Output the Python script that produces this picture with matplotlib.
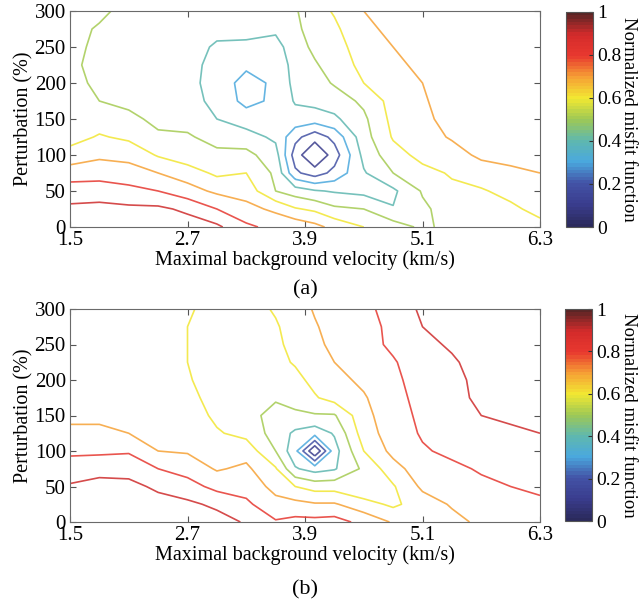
import matplotlib.pyplot as plt
import numpy as np
from matplotlib.colors import LinearSegmentedColormap, Normalize
from matplotlib.cm import ScalarMappable

plt.rcParams['font.family'] = ['Liberation Serif', 'DejaVu Serif']

# grid of the misfit maps
velocity = [1.5, 1.8, 2.1, 2.4, 2.7, 3.0, 3.3, 3.6, 3.8, 4.0, 4.2, 4.5, 4.8, 5.1, 5.4, 5.7, 6.0, 6.3]
perturbation = [0, 25, 50, 75, 100, 125, 150, 175, 200, 225, 250, 275, 300]
levels = [0.1, 0.2, 0.3, 0.4, 0.5, 0.6, 0.7, 0.8, 0.9]

# one list per velocity column, from perturbation 0 up to 300
misfit_a = [
    [0.95, 0.92, 0.85, 0.75, 0.64, 0.56, 0.55, 0.54, 0.53, 0.52, 0.525, 0.53, 0.54],
    [0.97, 0.93, 0.85, 0.76, 0.68, 0.61, 0.55, 0.50, 0.48, 0.47, 0.48, 0.49, 0.52],
    [0.97, 0.92, 0.83, 0.74, 0.67, 0.58, 0.53, 0.47, 0.46, 0.45, 0.45, 0.46, 0.47],
    [0.96, 0.92, 0.80, 0.70, 0.59, 0.52, 0.47, 0.45, 0.44, 0.44, 0.44, 0.45, 0.46],
    [0.95, 0.88, 0.74, 0.65, 0.54, 0.51, 0.47, 0.44, 0.43, 0.43, 0.43, 0.44, 0.45],
    [0.92, 0.80, 0.68, 0.58, 0.52, 0.47, 0.40, 0.37, 0.36, 0.37, 0.39, 0.42, 0.44],
    [0.82, 0.73, 0.66, 0.60, 0.53, 0.44, 0.35, 0.27, 0.26, 0.32, 0.38, 0.43, 0.45],
    [0.77, 0.68, 0.50, 0.48, 0.44, 0.38, 0.34, 0.32, 0.32, 0.33, 0.36, 0.42, 0.46],
    [0.77, 0.61, 0.45, 0.22, 0.15, 0.23, 0.36, 0.41, 0.43, 0.44, 0.46, 0.48, 0.49],
    [0.73, 0.58, 0.41, 0.15, 0.00, 0.14, 0.35, 0.43, 0.46, 0.49, 0.52, 0.54, 0.56],
    [0.67, 0.52, 0.39, 0.23, 0.15, 0.23, 0.38, 0.45, 0.51, 0.54, 0.56, 0.58, 0.61],
    [0.60, 0.50, 0.37, 0.39, 0.43, 0.46, 0.48, 0.52, 0.60, 0.63, 0.65, 0.68, 0.70],
    [0.55, 0.405, 0.38, 0.50, 0.56, 0.61, 0.63, 0.64, 0.66, 0.68, 0.70, 0.72, 0.73],
    [0.48, 0.48, 0.51, 0.57, 0.63, 0.66, 0.68, 0.69, 0.70, 0.72, 0.73, 0.74, 0.75],
    [0.53, 0.55, 0.58, 0.61, 0.66, 0.71, 0.73, 0.74, 0.75, 0.75, 0.76, 0.76, 0.77],
    [0.54, 0.56, 0.59, 0.65, 0.72, 0.74, 0.75, 0.76, 0.76, 0.77, 0.77, 0.77, 0.78],
    [0.55, 0.58, 0.63, 0.68, 0.73, 0.75, 0.76, 0.77, 0.77, 0.78, 0.78, 0.78, 0.78],
    [0.57, 0.63, 0.67, 0.70, 0.74, 0.76, 0.77, 0.77, 0.78, 0.78, 0.78, 0.78, 0.78],
]

misfit_b = [
    [0.98, 0.95, 0.91, 0.85, 0.78, 0.72, 0.68, 0.67, 0.66, 0.66, 0.66, 0.66, 0.66],
    [0.99, 0.97, 0.93, 0.87, 0.78, 0.72, 0.68, 0.67, 0.66, 0.66, 0.66, 0.66, 0.66],
    [0.99, 0.97, 0.93, 0.86, 0.79, 0.70, 0.67, 0.66, 0.65, 0.65, 0.65, 0.65, 0.65],
    [0.98, 0.94, 0.88, 0.80, 0.70, 0.67, 0.66, 0.65, 0.65, 0.64, 0.64, 0.64, 0.64],
    [0.97, 0.92, 0.84, 0.76, 0.69, 0.66, 0.65, 0.63, 0.61, 0.60, 0.60, 0.60, 0.61],
    [0.94, 0.88, 0.77, 0.69, 0.64, 0.61, 0.58, 0.56, 0.55, 0.55, 0.55, 0.56, 0.57],
    [0.89, 0.82, 0.76, 0.72, 0.66, 0.57, 0.53, 0.52, 0.52, 0.53, 0.54, 0.55, 0.56],
    [0.81, 0.73, 0.67, 0.61, 0.50, 0.46, 0.47, 0.51, 0.55, 0.57, 0.58, 0.59, 0.61],
    [0.83, 0.73, 0.60, 0.41, 0.33, 0.38, 0.48, 0.54, 0.57, 0.61, 0.63, 0.64, 0.65],
    [0.83, 0.71, 0.56, 0.36, 0.00, 0.34, 0.49, 0.59, 0.63, 0.66, 0.68, 0.69, 0.71],
    [0.84, 0.71, 0.56, 0.39, 0.36, 0.41, 0.49, 0.64, 0.67, 0.70, 0.72, 0.74, 0.75],
    [0.77, 0.64, 0.51, 0.52, 0.60, 0.65, 0.67, 0.69, 0.72, 0.74, 0.76, 0.77, 0.78],
    [0.69, 0.58, 0.59, 0.66, 0.73, 0.75, 0.76, 0.77, 0.78, 0.79, 0.82, 0.82, 0.83],
    [0.66, 0.65, 0.72, 0.76, 0.79, 0.81, 0.82, 0.83, 0.84, 0.86, 0.88, 0.90, 0.92],
    [0.67, 0.71, 0.75, 0.78, 0.82, 0.84, 0.86, 0.87, 0.88, 0.89, 0.91, 0.93, 0.94],
    [0.72, 0.75, 0.78, 0.81, 0.85, 0.88, 0.90, 0.92, 0.92, 0.93, 0.94, 0.95, 0.95],
    [0.74, 0.77, 0.80, 0.83, 0.86, 0.89, 0.91, 0.93, 0.94, 0.94, 0.95, 0.95, 0.96],
    [0.76, 0.78, 0.82, 0.85, 0.88, 0.90, 0.92, 0.93, 0.94, 0.95, 0.95, 0.96, 0.96],
]

cbar_ticks = [0, 0.2, 0.4, 0.6, 0.8, 1.0]
cbar_labels = ['0', '0.2', '0.4', '0.6', '0.8', '1']

cmap_pos = [0.0, 0.1, 0.2, 0.3, 0.4, 0.5, 0.6, 0.7, 0.8, 0.9, 1.0]
cmap_hex = ['#2b2a5c', '#3a3d8e', '#4353a6', '#4aa8de', '#5fb8ae', '#9ec855',
            '#f2e832', '#f6a035', '#e8382f', '#d42b2b', '#5a2525']
cmap = LinearSegmentedColormap.from_list('misfit', list(zip(cmap_pos, cmap_hex)), N=64)

fig = plt.figure(figsize=(6.41, 6.08), dpi=100)
W, H = 641.0, 608.0


def panel(grid, box, cbox, tag, tag_y):
    norm = Normalize(0, 1)
    ax = fig.add_axes([box[0] / W, 1 - box[3] / H, (box[2] - box[0]) / W, (box[3] - box[1]) / H])
    z = np.array(grid).T
    ax.contour(velocity, perturbation, z, levels=levels, cmap=cmap, norm=norm,
               linewidths=1.2, alpha=0.85)
    ax.set_xlim(1.5, 6.3)
    ax.set_ylim(0, 300)
    ax.set_xticks([1.5, 2.7, 3.9, 5.1, 6.3])
    ax.set_xticklabels(['1.5', '2.7', '3.9', '5.1', '6.3'])
    ax.set_yticks([0, 50, 100, 150, 200, 250, 300])
    ax.tick_params(direction='in', top=True, right=True, length=4, labelsize=15,
                   color='#555555', pad=3)
    for s in ax.spines.values():
        s.set_color('#6a6a6a')
    ax.set_xlabel('Maximal background velocity (km/s)', fontsize=14.5, labelpad=0)
    ax.set_ylabel('Perturbation (%)', fontsize=14.5, labelpad=1)
    fig.text(0.5 * (box[0] + box[2]) / W, 1 - tag_y / H, tag, fontsize=16,
             ha='center', va='center')

    cax = fig.add_axes([cbox[0] / W, 1 - cbox[3] / H, (cbox[2] - cbox[0]) / W, (cbox[3] - cbox[1]) / H])
    cb = fig.colorbar(ScalarMappable(norm=norm, cmap=cmap), cax=cax)
    cax.set_yticks(cbar_ticks)
    cax.set_yticklabels(cbar_labels)
    cax.tick_params(direction='in', length=3, labelsize=14, color='#333333', pad=3)
    cb.outline.set_edgecolor('#555555')
    fig.text(629 / W, 1 - 0.5 * (cbox[1] + cbox[3]) / H, 'Normalized misfit function',
             rotation=270, fontsize=13.5, ha='center', va='center')


panel(misfit_a, (70, 11, 540, 227), (566, 12, 593, 227), '(a)', 290)
panel(misfit_b, (70, 309, 540, 522), (565, 309, 592, 521), '(b)', 590)

fig.savefig('out.png', dpi=100)
